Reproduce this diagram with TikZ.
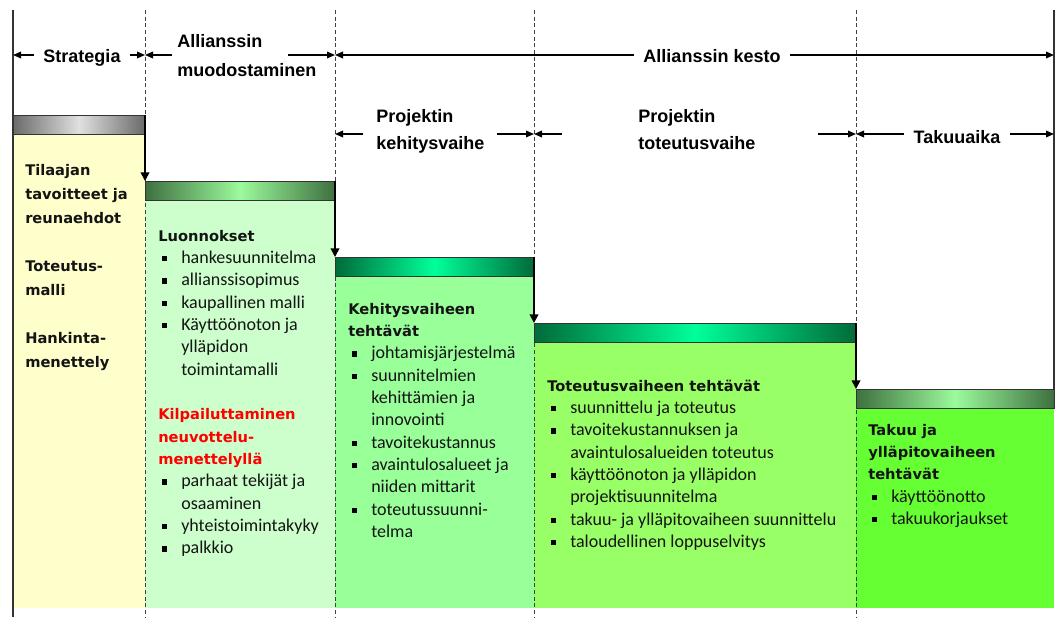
\documentclass[tikz,border=0pt]{standalone}
\usepackage{fontspec}
\setmainfont{Carlito}
\newfontfamily\headfont{DejaVu Sans}
\newfontfamily\labelfont{Liberation Sans}
\usetikzlibrary{arrows.meta}

\definecolor{boxyellow}{HTML}{FFFFCC}
\definecolor{boxpale}{HTML}{CCFFCC}
\definecolor{boxmint}{HTML}{99FF99}
\definecolor{boxlime}{HTML}{99FF66}
\definecolor{boxgreen}{HTML}{66FF33}
\definecolor{bargray}{HTML}{6A6A6A}
\definecolor{barlight}{HTML}{E0E0E0}
\definecolor{bardark}{HTML}{3E703F}
\definecolor{barpale}{HTML}{9CFA9C}
\definecolor{barteal}{HTML}{006B3A}
\definecolor{barbright}{HTML}{00FF99}
\definecolor{inktext}{HTML}{141414}
\definecolor{alertred}{HTML}{FF0000}

\newcommand{\hd}[1]{\par\noindent{\headfont\bfseries\fontsize{11}{16.75}\selectfont #1}}
\newcommand{\itm}[1]{\par\noindent\hspace*{3pt}{\color{black}\rule[1.6pt]{3.8pt}{3.8pt}}\hspace*{10.45pt}\mbox{#1}}
\newcommand{\cnt}[1]{\par\noindent\hspace*{17.25pt}\mbox{#1}}

\begin{document}
\begin{tikzpicture}[x=0.75pt, y=-0.75pt,
    toplabel/.style={font=\labelfont\bfseries\fontsize{13.5}{21}\selectfont, inner ysep=0pt, inner xsep=7pt},
    twolabel/.style={anchor=base west, inner sep=0pt},
    dimarrow/.style={-{Triangle[length=6pt,width=5pt]}, line width=0.9pt},
    steparrow/.style={-{Triangle[length=6.5pt,width=6.5pt]}, line width=1.3pt},
    phaseline/.style={draw=black!75, line width=0.6pt, dash pattern=on 3pt off 2pt},
    phasebar/.style={draw=black!80, line width=0.6pt, anchor=north west, inner sep=0pt, outer sep=0pt, minimum height=14.25pt},
    taskbox/.style={anchor=base west, inner sep=0pt, text=inktext}]

\useasboundingbox (0,0) rectangle (1055,617);

\coordinate (b0) at (13,10);
\coordinate (b1) at (145,10);
\coordinate (b2) at (335,10);
\coordinate (b3) at (534,10);
\coordinate (b4) at (856,10);
\coordinate (b5) at (1054,10);
\coordinate (r1) at (0,55);
\coordinate (r2) at (0,134);
\coordinate (floor) at (0,608);
\coordinate (edge) at (0,617);

% boxes
\fill[boxyellow] (b0 |- 0,134) rectangle (b1 |- floor);
\fill[boxpale] (b1 |- 0,200) rectangle (b2 |- floor);
\fill[boxmint] (b2 |- 0,276) rectangle (b3 |- floor);
\fill[boxlime] (b3 |- 0,342) rectangle (b4 |- floor);
\fill[boxgreen] (b4 |- 0,408) rectangle (b5 |- floor);

\draw[phaseline] (b1) -- (b1 |- edge);
\draw[phaseline] (b2) -- (b2 |- edge);
\draw[phaseline] (b3) -- (b3 |- edge);
\draw[phaseline] (b4) -- (b4 |- edge);

\node[phasebar, minimum width=99pt, left color=bargray, right color=bargray, middle color=barlight] (bar1) at (13,115) {};
\node[phasebar, minimum width=142.5pt, left color=bardark, right color=bardark, middle color=barpale] (bar2) at (145,181) {};
\node[phasebar, minimum width=149.25pt, left color=barteal, right color=barteal, middle color=barbright] (bar3) at (335,257) {};
\node[phasebar, minimum width=241.5pt, left color=barteal, right color=barteal, middle color=barbright] (bar4) at (534,323) {};
\node[phasebar, minimum width=148.5pt, left color=bardark, right color=bardark, middle color=barpale] (bar5) at (856,389) {};

\draw[line width=0.9pt, black!80] (b0) -- (b0 |- edge);
\draw[line width=0.9pt, black!80] (b5) -- (bar5.north east);

\draw[steparrow] (bar1.north east) -- (bar2.north west);
\draw[steparrow] (bar2.north east) -- (bar3.north west);
\draw[steparrow] (bar3.north east) -- (bar4.north west);
\draw[steparrow] (bar4.north east) -- (bar5.north west);

% time spans
\node[toplabel, anchor=base] (strat) at (82,63) {Strategia};
\node[twolabel] (formA) at (177,48) {\parbox[t]{130pt}{\labelfont\bfseries\fontsize{13.5}{21.5}\selectfont Allianssin\\muodostaminen}};
\node[toplabel, anchor=base] (dur) at (712,63) {Allianssin kesto};
\node[twolabel] (devlbl) at (376,122) {\parbox[t]{110pt}{\labelfont\bfseries\fontsize{13.5}{20.5}\selectfont Projektin\\kehitysvaihe}};
\node[twolabel] (buildlbl) at (638,122) {\parbox[t]{110pt}{\labelfont\bfseries\fontsize{13.5}{20.5}\selectfont Projektin\\toteutusvaihe}};
\node[toplabel, anchor=base] (warr) at (957,143) {Takuuaika};

\coordinate (formAl) at (172,55);
\coordinate (formAr) at (288,55);
\coordinate (devl) at (363,134);
\coordinate (devr) at (497,134);
\coordinate (buildl) at (562,134);
\coordinate (buildr) at (818,134);

\draw[dimarrow] (strat.west |- r1) -- (b0 |- r1);
\draw[dimarrow] (strat.east |- r1) -- (b1 |- r1);
\draw[dimarrow] (formAl) -- (b1 |- r1);
\draw[dimarrow] (formAr) -- (b2 |- r1);
\draw[dimarrow] (dur.west |- r1) -- (b2 |- r1);
\draw[dimarrow] (dur.east |- r1) -- (b5 |- r1);
\draw[dimarrow] (devl) -- (b2 |- r2);
\draw[dimarrow] (devr) -- (b3 |- r2);
\draw[dimarrow] (buildl) -- (b3 |- r2);
\draw[dimarrow] (buildr) -- (b4 |- r2);
\draw[dimarrow] (warr.west |- r2) -- (b4 |- r2);
\draw[dimarrow] (warr.east |- r2) -- (b5 |- r2);

% box texts
\node[taskbox] (goals) at (25,175) {\parbox[t]{110pt}{\headfont\bfseries\fontsize{11}{18}\selectfont
  Tilaajan\\tavoitteet ja\\reunaehdot\\[18pt]Toteutus-\\malli\\[18pt]Hankinta-\\menettely}};

\node[taskbox] (drafts) at (158,241) {\parbox[t]{135pt}{\fontsize{13.5}{16.75}\selectfont
  \hd{Luonnokset}
  \itm{hankesuunnitelma}
  \itm{allianssisopimus}
  \itm{kaupallinen malli}
  \itm{Käyttöönoton ja}
  \cnt{ylläpidon}
  \cnt{toimintamalli}
  \par\vspace{16.75pt}
  \hd{\color{alertred}Kilpailuttaminen}
  \hd{\color{alertred}neuvottelu-}
  \hd{\color{alertred}menettelyllä}
  \itm{parhaat tekijät ja}
  \cnt{osaaminen}
  \itm{yhteistoimintakyky}
  \itm{palkkio}}};

\node[taskbox] (devtasks) at (348,314) {\parbox[t]{140pt}{\fontsize{13.5}{16.75}\selectfont
  \hd{Kehitysvaiheen}
  \hd{tehtävät}
  \itm{johtamisjärjestelmä}
  \itm{suunnitelmien}
  \cnt{kehittämien ja}
  \cnt{innovointi}
  \itm{tavoitekustannus}
  \itm{avaintulosalueet ja}
  \cnt{niiden mittarit}
  \itm{toteutussuunni-}
  \cnt{telma}}};

\node[taskbox] (buildtasks) at (547,391) {\parbox[t]{232pt}{\fontsize{13.5}{16.75}\selectfont
  \hd{Toteutusvaiheen tehtävät}
  \itm{suunnittelu ja toteutus}
  \itm{tavoitekustannuksen ja}
  \cnt{avaintulosalueiden toteutus}
  \itm{käyttöönoton ja ylläpidon}
  \cnt{projektisuunnitelma}
  \itm{takuu- ja ylläpitovaiheen suunnittelu}
  \itm{taloudellinen loppuselvitys}}};

\node[taskbox] (warrtasks) at (868,435) {\parbox[t]{140pt}{\fontsize{13.5}{16.75}\selectfont
  \hd{Takuu ja}
  \hd{ylläpitovaiheen}
  \hd{tehtävät}
  \itm{käyttöönotto}
  \itm{takuukorjaukset}}};
\end{tikzpicture}
\end{document}
